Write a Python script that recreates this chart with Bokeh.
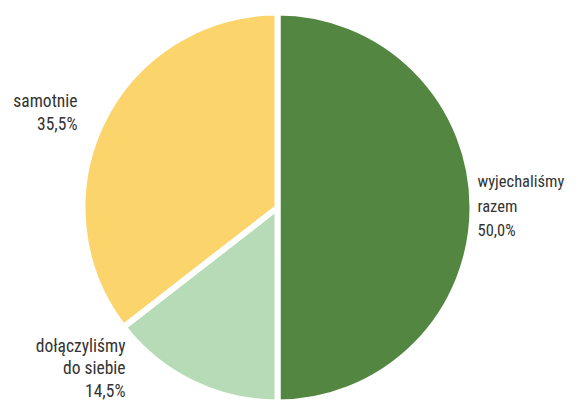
import numpy as np
from bokeh.plotting import figure
from bokeh.models import ColumnDataSource, Range1d
from bokeh.core.properties import value
from bokeh.embed import file_html
from bokeh.resources import INLINE

categories = ["wyjechaliśmy razem", "dołączyliśmy do siebie", "samotnie"]
shares = [50.0, 14.5, 35.5]
pct_labels = ["50,0%", "14,5%", "35,5%"]
colors = ["#538741", "#b7dbb6", "#fcd46c"]

W, H = 565, 401
p = figure(width=W, height=H, output_backend="svg", toolbar_location=None,
           x_range=Range1d(0, W), y_range=Range1d(0, H), min_border=0)
p.axis.visible = False
p.grid.visible = False
p.outline_line_color = None

cx, cy, r = 277, 194, 195
fr = np.array(shares) / 100.0
ends = np.pi / 2 - 2 * np.pi * np.cumsum(fr)
starts = np.concatenate([[np.pi / 2], ends[:-1]])
src = ColumnDataSource(dict(start=starts, end=ends, color=colors))
p.wedge(x=cx, y=cy, radius=r, start_angle="start", end_angle="end",
        direction="clock", fill_color="color", line_color="white",
        line_width=6, source=src)

font = value("Roboto Condensed, DejaVu Sans Condensed, sans-serif")
lab = [
    (categories[0].split(" ") + [pct_labels[0]], 477, 220, "left", 24.5, "16.5px"),
    (["dołączyliśmy", "do siebie", pct_labels[1]], 125, 56, "right", 22.5, "17.5px"),
    ([categories[2], pct_labels[2]], 77, 301, "right", 23, "17.5px"),
]
for lines, x, ytop, align, dy, fs in lab:
    ys = [ytop - dy * i for i in range(len(lines))]
    p.text(x=[x] * len(lines), y=ys, text=lines, text_font=font,
           text_font_size=fs, text_color="#333333", text_align=align,
           text_baseline="middle")

open("out.html", "w").write(file_html(p, INLINE))
